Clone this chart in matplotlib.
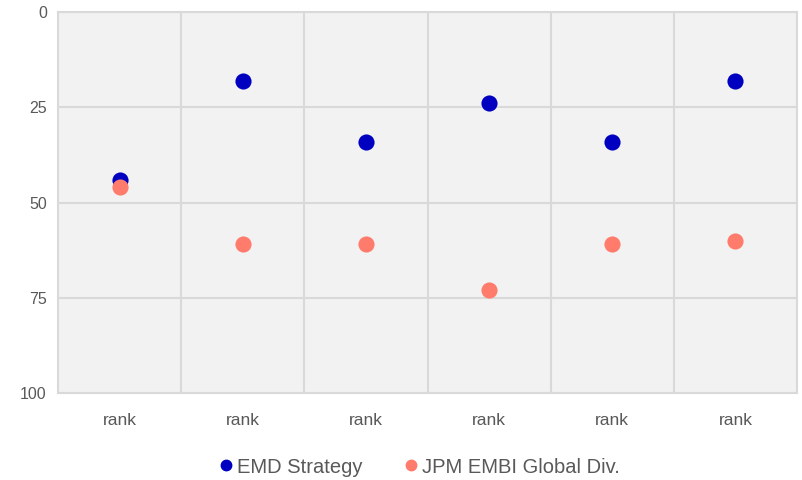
import matplotlib.pyplot as plt
from matplotlib.lines import Line2D

plt.rcParams['font.family'] = ['Liberation Sans', 'DejaVu Sans']

categories = ['rank', 'rank', 'rank', 'rank', 'rank', 'rank']
emd_strategy = [44, 18, 34, 24, 34, 18]
jpm_embi = [46, 61, 61, 73, 61, 60]
y_ticks = [0, 25, 50, 75, 100]

emd_color = '#0000c0'
jpm_color = '#ff7b6b'
grid_color = '#d9d9d9'
text_color = '#595959'

fig = plt.figure(figsize=(8.02, 4.8), dpi=100)
ax = fig.add_axes([0.0723, 0.181, 0.9215, 0.794])
ax.set_facecolor('#f2f2f2')

x = list(range(len(categories)))
ax.scatter(x, emd_strategy, s=135, color=emd_color, zorder=3, linewidths=0)
ax.scatter(x, jpm_embi, s=135, color=jpm_color, zorder=4, linewidths=0)

ax.set_xlim(-0.5, len(categories) - 0.5)
ax.set_ylim(100, 0)
ax.set_yticks(y_ticks)
ax.set_xticks(x)
ax.set_xticklabels(categories)
ax.set_xticks([i + 0.5 for i in x[:-1]], minor=True)

ax.grid(True, which='major', axis='y', color=grid_color, linewidth=1.5)
ax.grid(True, which='minor', axis='x', color=grid_color, linewidth=1.5)
ax.set_axisbelow(True)
ax.tick_params(which='both', length=0)
ax.tick_params(axis='x', pad=14, labelsize=12.5, colors=text_color)
ax.tick_params(axis='y', pad=8, labelsize=11.5, colors=text_color)
for spine in ax.spines.values():
    spine.set_color(grid_color)
    spine.set_linewidth(1.5)

handles = [
    Line2D([], [], marker='o', linestyle='', color=emd_color, markersize=7.5),
    Line2D([], [], marker='o', linestyle='', color=jpm_color, markersize=7.5),
]
fig.legend(handles, ['EMD Strategy', 'JPM EMBI Global Div.'],
           loc='center', bbox_to_anchor=(0.522, 0.027), ncol=2, frameon=False,
           handletextpad=0.15, columnspacing=2.0, handlelength=0.8,
           prop={'size': 14.5}, labelcolor=text_color)

fig.savefig('out.png', dpi=100)
